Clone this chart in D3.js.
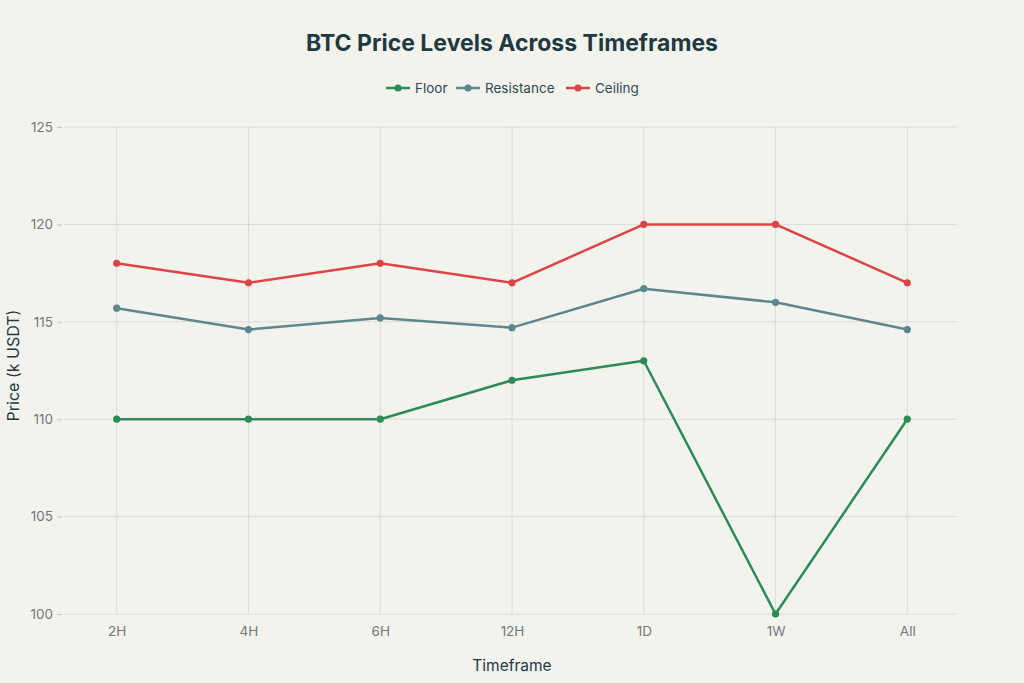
<!DOCTYPE html>
<html><head><meta charset="utf-8">
<script src="https://cdn.jsdelivr.net/npm/d3@7"></script>
<style>
html,body{margin:0;padding:0;background:#f3f3ee;}
svg{display:block;font-family:"Inter","Liberation Sans",sans-serif;}
</style></head>
<body>
<svg id="chart" width="1024" height="683"></svg>
<script>
const categories = ["2H","4H","6H","12H","1D","1W","All"];
const floorValues = [110,110,110,112,113,100,110];
const resistanceValues = [115.7,114.6,115.2,114.7,116.7,116.0,114.6];
const ceilingValues = [118,117,118,117,120,120,117];
const yTicks = [100,105,110,115,120,125];
const seriesNames = ["Floor","Resistance","Ceiling"];
const seriesColors = ["#2e8b57","#5d878f","#db4545"];

(function(){
const series = [floorValues, resistanceValues, ceilingValues].map((v,i)=>({name:seriesNames[i], color:seriesColors[i], values:v}));

const svg = d3.select("#chart");
const W=1024,H=683;
svg.append("rect").attr("width",W).attr("height",H).attr("fill","#f3f3ee");

const pL=64,pR=960,pT=127,pB=614;
const xIdx = d3.scaleLinear().domain([-0.4, categories.length-1+0.4]).range([pL,pR]);
const y = d3.scaleLinear().domain([100,125]).range([pB,pT]);

const g = svg.append("g");
g.selectAll(".hg").data(yTicks).enter().append("line")
  .attr("x1",pL).attr("x2",pR-3).attr("y1",d=>y(d)).attr("y2",d=>y(d))
  .attr("stroke","#dcdcd6").attr("stroke-width",1);
g.selectAll(".vg").data(categories).enter().append("line")
  .attr("x1",(d,i)=>xIdx(i)).attr("x2",(d,i)=>xIdx(i)).attr("y1",pT).attr("y2",pB)
  .attr("stroke","#dcdcd6").attr("stroke-width",1);

const yAxis = d3.axisLeft(y).tickValues(yTicks).tickSize(5).tickPadding(4);
const ya = svg.append("g").attr("transform",`translate(${pL-2},0)`).call(yAxis);
ya.select(".domain").remove();
ya.selectAll("line").attr("stroke","#c8c8c2");
ya.selectAll("text").attr("fill","#72787c").style("font-size","13.5px").style("font-family","Inter, sans-serif");

const xAxis = d3.axisBottom(xIdx).tickValues(d3.range(categories.length)).tickFormat(i=>categories[i]).tickSize(0).tickPadding(12);
const xa = svg.append("g").attr("transform",`translate(0,${pB})`).call(xAxis);
xa.select(".domain").remove();
xa.selectAll("text").attr("fill","#72787c").style("font-size","13.5px").style("font-family","Inter, sans-serif");

const line = d3.line().x((d,i)=>xIdx(i)).y(d=>y(d));
series.forEach(s=>{
  svg.append("path").datum(s.values).attr("d",line).attr("fill","none")
    .attr("stroke",s.color).attr("stroke-width",2.5).attr("stroke-linejoin","round");
  svg.selectAll(null).data(s.values).enter().append("circle")
    .attr("cx",(d,i)=>xIdx(i)).attr("cy",d=>y(d)).attr("r",3.6).attr("fill",s.color);
});

svg.append("text").attr("x",512).attr("y",51).attr("text-anchor","middle")
  .attr("fill","#1e3a40").style("font-size","23px").style("font-weight","700")
  .text("BTC Price Levels Across Timeframes");

const legendX = [386,456,566];
series.forEach((s,i)=>{
  const lg = svg.append("g").attr("transform",`translate(${legendX[i]},88)`);
  lg.append("line").attr("x1",0).attr("x2",24).attr("stroke",s.color).attr("stroke-width",2.5);
  lg.append("circle").attr("cx",12).attr("r",3.6).attr("fill",s.color);
  lg.append("text").attr("x",29).attr("y",5).attr("fill","#2f4a50").style("font-size","13.5px").text(s.name);
});

svg.append("text").attr("x",512).attr("y",671).attr("text-anchor","middle")
  .attr("fill","#1e3a40").style("font-size","15.5px").text("Timeframe");
svg.append("text").attr("transform",`translate(19,${(pT+pB)/2 - 5}) rotate(-90)`).attr("text-anchor","middle")
  .attr("fill","#1e3a40").style("font-size","16px").text("Price (k USDT)");
})();
</script>
</body></html>
